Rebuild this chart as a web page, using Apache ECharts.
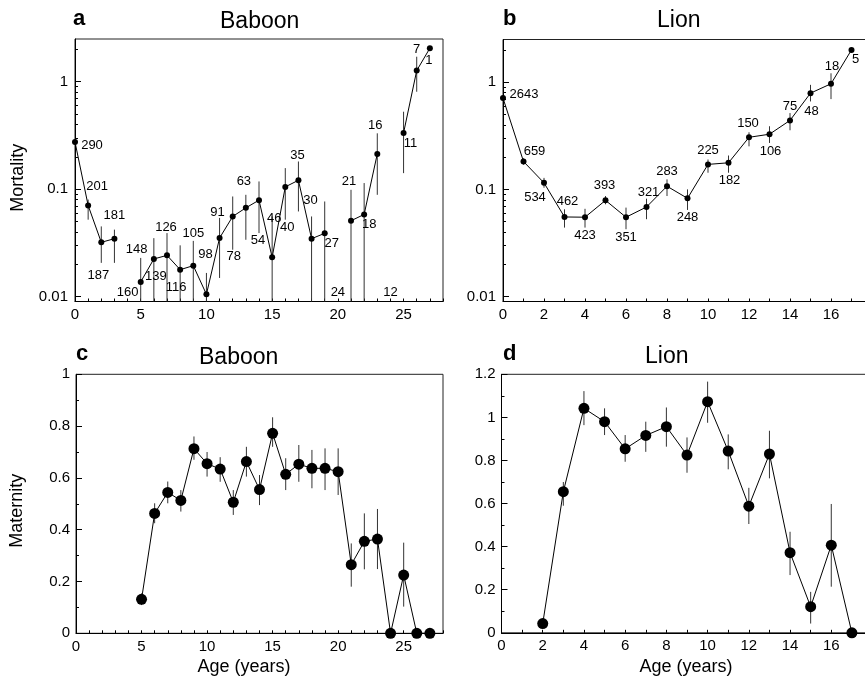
<!DOCTYPE html>
<html><head><meta charset="utf-8">
<script src="https://cdn.jsdelivr.net/npm/echarts@6/dist/echarts.min.js"></script>
<style>html,body{margin:0;padding:0;background:#fff}#c{width:865px;height:681px}</style>
</head><body><div id="c"></div>
<script>
// ---------------- DATA ----------------
const baboonAges = [0,1,2,3,4,5,6,7,8,9,10,11,12,13,14,15,16,17,18,19,20,21,22,23,24,25,26,27];
const baboonMortality = [0.275,0.0705,0.032,0.0346,0,0.0137,0.0224,0.0242,0.0178,0.0194,0.0105,0.0351,0.0557,0.067,0.079,0.0232,0.105,0.121,0.0346,0.0388,0,0.0508,0.0582,0.213,0,0.334,1.27,2.05];
const baboonMortLow  = [null,0.052,0.0206,0.0206,null,0,0,0,0,0,0,0.0149,0.0273,0.0338,0.039,0,0.052,0.062,0,0,null,0,0,0.0886,null,0.141,0.807,null];
const baboonMortHigh = [null,0.080,0.045,0.042,null,0.0229,0.035,0.039,0.030,0.033,0.0166,0.054,0.0855,0.0886,0.118,0.0557,0.157,0.181,0.0557,0.0768,null,0.0986,0.114,0.331,null,0.526,1.71,null];
const baboonMortN = [290,201,187,181,160,148,139,126,116,105,98,91,78,63,54,46,40,35,30,27,24,21,18,16,12,11,7,1];

const lionAges = [0,1,2,3,4,5,6,7,8,9,10,11,12,13,14,15,16,17];
const lionMortality = [0.71,0.182,0.115,0.0553,0.055,0.079,0.055,0.0685,0.107,0.0825,0.171,0.177,0.306,0.327,0.44,0.79,0.966,2.0];
const lionMortLow  = [null,0.17,0.1036,0.044,0.044,0.0726,0.0425,0.0527,0.0867,0.0643,0.143,0.143,0.252,0.271,0.356,0.661,0.695,null];
const lionMortHigh = [null,0.195,0.128,0.0652,0.0659,0.0867,0.0676,0.0819,0.124,0.1,0.19,0.207,0.341,0.388,0.515,0.944,1.21,null];
const lionMortN = [2643,659,534,462,423,393,351,321,283,248,225,182,150,106,75,48,18,5];

const baboonMatAges = [5,6,7,8,9,10,11,12,13,14,15,16,17,18,19,20,21,22,23,24,25,26,27];
const baboonMaternity = [0.131,0.463,0.544,0.513,0.713,0.655,0.634,0.506,0.663,0.555,0.772,0.614,0.653,0.637,0.637,0.624,0.265,0.355,0.364,0,0.225,0,0];
const baboonMatLow  = [0.109,0.425,0.502,0.47,0.67,0.605,0.585,0.457,0.605,0.495,0.72,0.553,0.585,0.56,0.553,0.534,0.18,0.247,0.248,null,0.103,null,null];
const baboonMatHigh = [0.154,0.502,0.586,0.553,0.76,0.70,0.68,0.553,0.72,0.611,0.834,0.676,0.727,0.708,0.714,0.714,0.347,0.463,0.48,null,0.35,null,null];

const lionMatAges = [2,3,4,5,6,7,8,9,10,11,12,13,14,15,16,17];
const lionMaternity = [0.043,0.655,1.042,0.98,0.854,0.916,0.957,0.825,1.073,0.844,0.588,0.83,0.372,0.121,0.407,0];
const lionMatLow  = [null,0.59,0.964,0.918,0.794,0.84,0.864,0.743,0.975,0.759,0.505,0.717,0.268,0.043,0.214,null];
const lionMatHigh = [null,0.70,1.122,1.042,0.918,0.98,1.046,0.907,1.166,0.921,0.673,0.938,0.469,0.19,0.598,null];

const baboonAgeTicks = [0,5,10,15,20,25];
const lionAgeTicks = [0,2,4,6,8,10,12,14,16];
const mortTicks = [0.01,0.1,1];
const mortMinorTicks = [0.02,0.03,0.04,0.05,0.06,0.07,0.08,0.09,0.2,0.3,0.4,0.5,0.6,0.7,0.8,0.9,2];

// ---------------- STYLE ----------------
const FONT = '"Liberation Sans", Arial, Helvetica, sans-serif';
const MORT_MIN = 0.009, MORT_MAX = 2.5;
// label offsets (px) relative to each point
const offA = [[17,3],[9,-19],[-3,33],[0,-23],null,[-4,-32],[2,17],[-1,-28],[-4,18],[0,-32],[-1,-40],[-2,-26],[1,40],[-2,-26],[-1,40],[2,-39],[2,41],[-1,-25],[-1,-38],[7,10],null,[-2,-39],[5,10],[-2,-28],null,[7,11],[0,-21],[-1,12]];
const offB = [[21,-4],[11,-10],[-9,15],[3,-16],[0,18],[-1,-15],[0,20],[2,-15],[0,-15],[0,19],[0,-14],[1,18],[-1,-14],[1,17],[0,-14],[1,18],[1,-17],[4,10]];

const ints = n => Array.from({length:n+1},(_,i)=>i);

function xAxis(grid, max, labels, name, nameGap, namePad) {
  return {
    gridIndex: grid, type:'value', min:0, max:max,
    axisLine:{show:true, lineStyle:{color:'#000', width:1}},
    axisTick:{show:true, inside:true, length:3, customValues: ints(max), lineStyle:{color:'#000'}},
    axisLabel:{customValues: labels, color:'#000', fontSize:15, fontFamily:FONT, margin:6},
    splitLine:{show:false},
    name:name, nameLocation:'middle', nameGap:nameGap, nameMoveOverlap:false,
    nameTextStyle:{color:'#000', fontSize:18, fontFamily:FONT, padding:namePad}
  };
}
function logY(grid, name) {
  return [{
    gridIndex:grid, type:'log', logBase:10, min:MORT_MIN, max:MORT_MAX, position:'left',
    axisLine:{show:true, lineStyle:{color:'#000'}},
    axisTick:{show:true, inside:true, length:6, customValues: mortTicks, lineStyle:{color:'#000'}},
    axisLabel:{customValues: mortTicks, color:'#000', fontSize:15, fontFamily:FONT, margin:7,
      formatter: v => String(+(+v).toPrecision(3))},
    splitLine:{show:false}, minorTick:{show:false},
    name:name, nameLocation:'middle', nameGap:48, nameMoveOverlap:false,
    nameTextStyle:{color:'#000', fontSize:18, fontFamily:FONT, padding: name ? [0,15,0,0] : 0}
  },{
    gridIndex:grid, type:'log', logBase:10, min:MORT_MIN, max:MORT_MAX, position:'left', offset:0,
    axisLine:{show:false},
    axisTick:{show:true, inside:true, length:3, customValues: mortMinorTicks, lineStyle:{color:'#000'}},
    axisLabel:{show:false}, splitLine:{show:false}
  }];
}
function linY(grid, max, name, nameGap) {
  return {
    gridIndex:grid, type:'value', min:0, max:max, interval:0.2, position:'left',
    axisLine:{show:true, lineStyle:{color:'#000'}},
    axisTick:{show:true, inside:true, length:6, lineStyle:{color:'#000'}},
    minorTick:{show:true, splitNumber:2, length:3, lineStyle:{color:'#000'}},
    axisLabel:{color:'#000', fontSize:15, fontFamily:FONT, margin:6, formatter: v => String(+(+v).toFixed(1))},
    splitLine:{show:false}, minorSplitLine:{show:false},
    name:name, nameLocation:'middle', nameGap:nameGap, nameMoveOverlap:false,
    nameTextStyle:{color:'#000', fontSize:18, fontFamily:FONT, padding: name ? [0,14,0,0] : 0}
  };
}

function errBars(xi, yi, ages, lows, highs, floor) {
  const data = [];
  ages.forEach((a,i) => {
    if (lows[i] == null || highs[i] == null) return;
    const lo = (floor != null && lows[i] <= 0) ? floor : lows[i];
    data.push([a, lo, highs[i]]);
  });
  return {
    type:'custom', xAxisIndex:xi, yAxisIndex:yi, data, silent:true, z:1, animation:false,
    encode:{x:0, y:[1,2]},
    renderItem:(params, api) => {
      const p1 = api.coord([api.value(0), api.value(2)]);
      const p2 = api.coord([api.value(0), api.value(1)]);
      return {type:'line', shape:{x1:p1[0], y1:p1[1], x2:p2[0], y2:p2[1]},
              style:{stroke:'#333', lineWidth:1}};
    }
  };
}

function mortLine(xi, yi, ages, vals, ns, offs) {
  return {
    type:'line', xAxisIndex:xi, yAxisIndex:yi, silent:true, animation:false, z:3,
    symbol:'circle', symbolSize:6, showSymbol:true, connectNulls:false,
    lineStyle:{color:'#000', width:1}, itemStyle:{color:'#000', opacity:1},
    data: ages.map((a,i) => vals[i] > 0 ? {
      value:[a, vals[i]],
      label:{show:true, position:'inside', offset:offs[i], formatter:String(ns[i]),
             color:'#000', fontSize:13, fontFamily:FONT}
    } : {value:[a, '-']})
  };
}
function zeroLabels(xi, yi, ages, vals, ns) {
  const data = [];
  ages.forEach((a,i) => { if (vals[i] === 0) data.push({value:[a, MORT_MIN], name:String(ns[i])}); });
  return {
    type:'scatter', xAxisIndex:xi, yAxisIndex:yi, silent:true, animation:false, symbolSize:1, z:3,
    itemStyle:{color:'#000', opacity:1},
    data,
    label:{show:true, position:'inside', offset:[0,-9], formatter:p => p.name,
           color:'#000', opacity:1, fontSize:13, fontFamily:FONT}
  };
}
function matLine(xi, yi, ages, vals) {
  return {
    type:'line', xAxisIndex:xi, yAxisIndex:yi, silent:true, animation:false, z:3,
    symbol:'circle', symbolSize:11, showSymbol:true, clip:false,
    lineStyle:{color:'#000', width:1}, itemStyle:{color:'#000', opacity:1},
    data: ages.map((a,i) => [a, vals[i]])
  };
}

const gridBase = {show:true, borderColor:'#222', borderWidth:1, backgroundColor:'transparent', containLabel:false, outerBoundsMode:'none'};

const option = {
  backgroundColor:'#fff',
  animation:false,
  title:[
    {text:'a', left:73, top:8, padding:0, textStyle:{fontSize:22, fontWeight:'bold', fontFamily:FONT, color:'#000'}},
    {text:'Baboon', left:220, top:10, padding:0, textStyle:{fontSize:23, fontWeight:'normal', fontFamily:FONT, color:'#000'}},
    {text:'b', left:503, top:8, padding:0, textStyle:{fontSize:22, fontWeight:'bold', fontFamily:FONT, color:'#000'}},
    {text:'Lion', left:657, top:9, padding:0, textStyle:{fontSize:23, fontWeight:'normal', fontFamily:FONT, color:'#000'}},
    {text:'c', left:76, top:343, padding:0, textStyle:{fontSize:22, fontWeight:'bold', fontFamily:FONT, color:'#000'}},
    {text:'Baboon', left:199, top:346, padding:0, textStyle:{fontSize:23, fontWeight:'normal', fontFamily:FONT, color:'#000'}},
    {text:'d', left:503, top:343, padding:0, textStyle:{fontSize:22, fontWeight:'bold', fontFamily:FONT, color:'#000'}},
    {text:'Lion', left:645, top:345, padding:0, textStyle:{fontSize:23, fontWeight:'normal', fontFamily:FONT, color:'#000'}}
  ],
  grid:[
    Object.assign({left:75, top:39, width:368, height:262.5}, gridBase),
    Object.assign({left:503, top:39.5, width:369, height:262}, gridBase),
    Object.assign({left:76, top:374.3, width:367, height:259}, gridBase),
    Object.assign({left:501.5, top:374.3, width:371, height:258.5}, gridBase)
  ],
  xAxis:[
    xAxis(0, 28, baboonAgeTicks, '', 20, 0),
    xAxis(1, 18, lionAgeTicks, '', 20, 0),
    xAxis(2, 28, baboonAgeTicks, 'Age (years)', 24.5, [0,31,0,0]),
    xAxis(3, 18, lionAgeTicks, 'Age (years)', 25, [0,2,0,0])
  ],
  yAxis:[
    ...logY(0, 'Mortality'),
    ...logY(1, ''),
    linY(2, 1, 'Maternity', 50),
    linY(3, 1.2, '', 40)
  ],
  series:[
    errBars(0, 0, baboonAges, baboonMortLow, baboonMortHigh, MORT_MIN),
    mortLine(0, 0, baboonAges, baboonMortality, baboonMortN, offA),
    zeroLabels(0, 0, baboonAges, baboonMortality, baboonMortN),
    errBars(1, 2, lionAges, lionMortLow, lionMortHigh, MORT_MIN),
    mortLine(1, 2, lionAges, lionMortality, lionMortN, offB),
    errBars(2, 4, baboonMatAges, baboonMatLow, baboonMatHigh, null),
    matLine(2, 4, baboonMatAges, baboonMaternity),
    errBars(3, 5, lionMatAges, lionMatLow, lionMatHigh, null),
    matLine(3, 5, lionMatAges, lionMaternity)
  ]
};

const chart = echarts.init(document.getElementById('c'), null, {renderer:'canvas'});
chart.setOption(option);
</script></body></html>
